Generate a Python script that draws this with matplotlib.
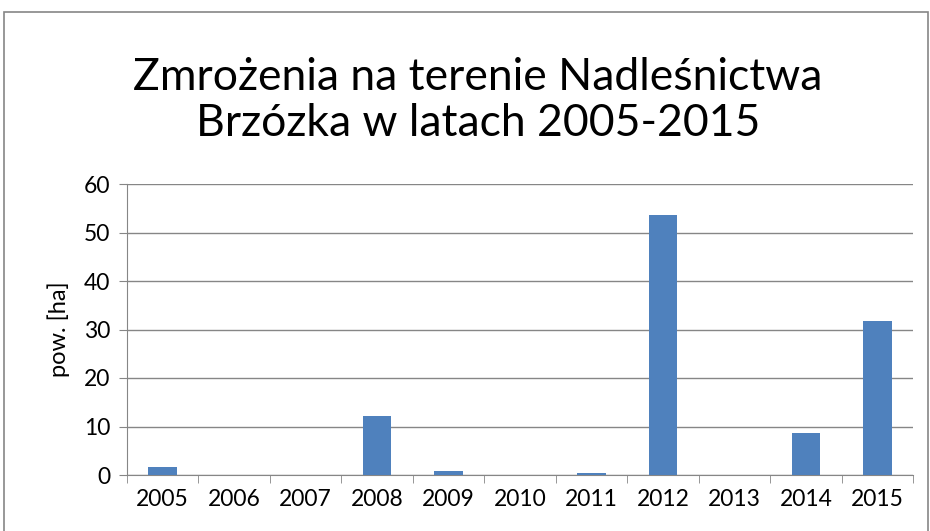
import matplotlib.pyplot as plt
from matplotlib.patches import Rectangle

years = ["2005", "2006", "2007", "2008", "2009", "2010", "2011", "2012", "2013", "2014", "2015"]
area_ha = [1.6, 0, 0, 12.2, 0.8, 0, 0.4, 53.6, 0, 8.7, 31.7]

plt.rcParams['font.family'] = ['Lato', 'DejaVu Sans']

W, H = 930, 531
fig = plt.figure(figsize=(W / 100, H / 100), dpi=100)
ax = fig.add_axes([127 / W, 1 - 475 / H, (913 - 127) / W, (475 - 184) / H])

x = range(len(years))
ax.bar(x, area_ha, width=0.4, color="#4f81bd", zorder=3)

ax.set_xlim(-0.5, len(years) - 0.5)
ax.set_ylim(0, 60)
ax.set_yticks(range(0, 61, 10))
ax.set_xticks(list(x))
ax.set_xticklabels(years)
ax.set_xticks([i - 0.5 for i in range(len(years) + 1)], minor=True)

ax.yaxis.grid(True, color="#868686", linewidth=1, zorder=0)
for s in ["top", "right"]:
    ax.spines[s].set_visible(False)
for s in ["left", "bottom"]:
    ax.spines[s].set_color("#868686")
ax.tick_params(axis="x", which="major", length=0, pad=10, labelsize=16.5)
ax.tick_params(axis="x", which="minor", length=6, color="#868686")
ax.tick_params(axis="y", length=6, color="#868686", labelsize=16.5, pad=6)
ax.set_ylabel("pow. [ha]", fontsize=17, labelpad=10)

fig.text(478 / W, 1 - 78 / H, "Zmrożenia na terenie Nadleśnictwa", ha="center", va="center", fontsize=32)
fig.text(478 / W, 1 - 124 / H, "Brzózka w latach 2005-2015", ha="center", va="center", fontsize=32)

fig.patches.append(Rectangle((4 / W, -0.01), (W - 6) / W, 1 - 12 / H + 0.01,
                             transform=fig.transFigure, fill=False, edgecolor="#868686", linewidth=1.2))

fig.savefig("out.png", dpi=100)
